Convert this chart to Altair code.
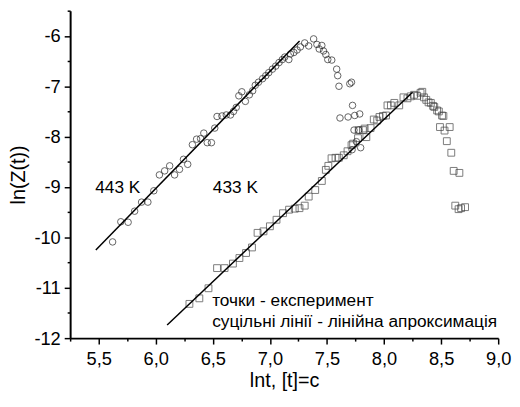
import altair as alt
import pandas as pd

# 443 K experimental points (circles)
x443 = [5.622, 5.694, 5.758, 5.815, 5.876, 5.931, 5.983, 6.032, 6.078, 6.122,
        6.165, 6.208, 6.243, 6.28, 6.321, 6.358, 6.393, 6.421, 6.451, 6.488,
        6.517, 6.537, 6.58, 6.618, 6.655, 6.681, 6.705, 6.728, 6.754, 6.785,
        6.82, 6.849, 6.872, 6.90, 6.936, 6.964, 6.99, 7.022, 7.051, 7.08,
        7.109, 7.13, 7.166, 7.18, 7.21, 7.238, 7.267, 7.305, 7.34, 7.383,
        7.412, 7.432, 7.455, 7.47, 7.49, 7.507, 7.542, 7.585, 7.594, 7.605,
        7.70, 7.715, 7.724, 7.614, 7.685, 7.743, 7.787, 7.737, 7.778, 7.758,
        7.795, 7.72]
y443 = [-10.09, -9.69, -9.70, -9.48, -9.30, -9.30, -9.075, -8.76, -8.68, -8.58,
        -8.76, -8.65, -8.45, -8.55, -8.16, -8.05, -8.04, -7.93, -8.12, -8.12,
        -7.83, -7.60, -7.59, -7.57, -7.57, -7.50, -7.42, -7.19, -7.11, -7.30,
        -7.17, -7.09, -6.98, -6.92, -6.85, -6.79, -6.73, -6.66, -6.60, -6.53,
        -6.47, -6.42, -6.47, -6.36, -6.33, -6.28, -6.22, -6.14, -6.20, -6.06,
        -6.17, -6.26, -6.19, -6.30, -6.37, -6.47, -6.48, -6.66, -6.79, -7.00,
        -6.95, -6.92, -7.38, -7.63, -7.61, -7.58, -7.55, -7.87, -7.87, -8.10,
        -8.22, -8.26]

# 433 K experimental points (squares)
x433 = [6.295, 6.382, 6.462, 6.537, 6.603, 6.676, 6.733, 6.791, 6.843, 6.892,
        6.944, 7.00, 7.058, 7.115, 7.168, 7.218, 7.259, 7.305, 7.34, 7.397,
        7.455, 7.49, 7.512, 7.54, 7.575, 7.604, 7.647, 7.68, 7.715, 7.729,
        7.772, 7.778, 7.815, 7.845, 7.83, 7.882, 7.91, 7.94, 7.96, 7.99,
        8.018, 8.03, 8.06, 8.09, 8.133, 8.17, 8.205, 8.234, 8.263, 8.29,
        8.32, 8.335, 8.35, 8.37, 8.39, 8.41, 8.43, 8.44, 8.465, 8.48,
        8.508, 8.52, 8.49, 8.53, 8.575, 8.55, 8.589, 8.61, 8.66, 8.624,
        8.653, 8.675, 8.71]
y433 = [-11.32, -11.21, -11.01, -10.61, -10.61, -10.52, -10.41, -10.31, -10.20, -9.91,
        -9.88, -9.78, -9.65, -9.52, -9.45, -9.43, -9.42, -9.37, -9.19, -9.06,
        -8.88, -8.66, -8.58, -8.43, -8.42, -8.42, -8.37, -8.29, -8.17, -8.14,
        -8.03, -7.87, -7.87, -8.01, -7.84, -7.83, -7.66, -7.68, -7.61, -7.59,
        -7.58, -7.38, -7.38, -7.33, -7.38, -7.22, -7.24, -7.20, -7.17, -7.19,
        -7.13, -7.11, -7.22, -7.27, -7.32, -7.33, -7.39, -7.41, -7.48, -7.50,
        -7.58, -7.59, -7.81, -7.88, -7.81, -8.09, -8.32, -8.68, -8.72, -9.37,
        -9.44, -9.42, -9.40]

# linear fits (endpoints)
fit443_x = [5.475, 7.26]
fit443_y = [-10.25, -6.10]
fit433_x = [6.10, 8.25]
fit433_y = [-11.74, -7.12]

# annotations
label_text = ["443 K", "433 K"]
label_x = [5.47, 6.50]
label_y = [-9.02, -9.02]
legend_text = ["точки - експеримент", "суцільні лінії - лінійна апроксимація"]
legend_x = [6.494, 6.494]
legend_y = [-11.27, -11.69]

x_ticks = [5.25 + 0.25 * i for i in range(16)]
y_ticks = [-12 + 0.5 * i for i in range(14)]

FONT = "Liberation Sans"

xs = alt.Scale(domain=[5.25, 9.0], nice=False, zero=False)
ys = alt.Scale(domain=[-12, -5.5], nice=False, zero=False)

xaxis = alt.Axis(
    values=x_ticks,
    labelExpr="datum.value % 0.5 == 0 ? floor(datum.value) + ',' + (round(datum.value * 10) % 10) : ''",
    tickSize={"expr": "datum.value % 0.5 == 0 ? 6 : 3"},
    title="lnt, [t]=c",
    grid=False,
    labelFlush=False,
    labelOverlap=False,
    labelPadding=6,
    titlePadding=3,
    titleFontSize=20,
)
yaxis = alt.Axis(
    values=y_ticks,
    labelExpr="datum.value % 1 == 0 ? '' + datum.value : ''",
    tickSize={"expr": "datum.value % 1 == 0 ? 6 : 3"},
    title="ln(Z(t))",
    grid=False,
    labelFlush=False,
    labelOverlap=False,
    labelPadding=4,
    titlePadding=6,
    titleFontSize=20,
)

df443 = pd.DataFrame({"x": x443, "y": y443})
df433 = pd.DataFrame({"x": x433, "y": y433})
fit443 = pd.DataFrame({"x": fit443_x, "y": fit443_y})
fit433 = pd.DataFrame({"x": fit433_x, "y": fit433_y})
labels = pd.DataFrame({"x": label_x, "y": label_y, "t": label_text})
legend = pd.DataFrame({"x": legend_x, "y": legend_y, "t": legend_text})

circles = alt.Chart(df443).mark_point(
    shape="circle", filled=False, size=44, color="#222", strokeWidth=1
).encode(x=alt.X("x:Q", scale=xs, axis=xaxis), y=alt.Y("y:Q", scale=ys, axis=yaxis))

squares = alt.Chart(df433).mark_point(
    shape="square", filled=False, size=48, color="#444", strokeWidth=1
).encode(x=alt.X("x:Q", scale=xs, axis=xaxis), y=alt.Y("y:Q", scale=ys, axis=yaxis))

line443 = alt.Chart(fit443).mark_line(color="black", strokeWidth=1.5).encode(
    x=alt.X("x:Q", scale=xs, axis=xaxis), y=alt.Y("y:Q", scale=ys, axis=yaxis))
line433 = alt.Chart(fit433).mark_line(color="black", strokeWidth=1.5).encode(
    x=alt.X("x:Q", scale=xs, axis=xaxis), y=alt.Y("y:Q", scale=ys, axis=yaxis))

lab = alt.Chart(labels).mark_text(
    align="left", baseline="middle", font=FONT, fontSize=17.5, color="black"
).encode(x=alt.X("x:Q", scale=xs, axis=xaxis), y=alt.Y("y:Q", scale=ys, axis=yaxis), text="t:N")

leg = alt.Chart(legend).mark_text(
    align="left", baseline="middle", font=FONT, fontSize=17.5, color="black"
).encode(x=alt.X("x:Q", scale=xs, axis=xaxis), y=alt.Y("y:Q", scale=ys, axis=yaxis), text="t:N")

chart = alt.layer(squares, circles, line443, line433, lab, leg).properties(
    width=434,
    height=332,
    autosize=alt.AutoSizeParams(type="none"),
    padding={"left": 63, "top": 0, "right": 14, "bottom": 60},
).configure_view(stroke=None).configure_axis(
    domainColor="black",
    domainWidth=2,
    tickColor="black",
    tickWidth=1.5,
    labelFont=FONT,
    labelFontSize=18.5,
    labelColor="black",
    titleFont=FONT,
    titleFontWeight="normal",
    titleColor="black",
)

chart.save("out.html", embed_options={"renderer": "svg", "actions": False})
